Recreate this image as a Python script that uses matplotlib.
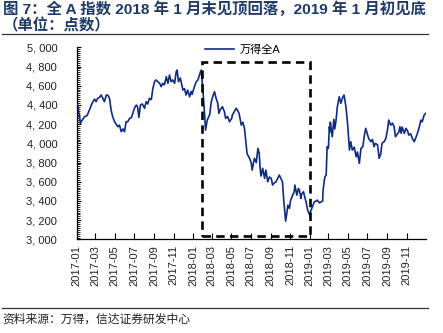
import matplotlib
matplotlib.use("Agg")
import matplotlib.pyplot as plt
import matplotlib.dates as mdates
from matplotlib.lines import Line2D
from matplotlib.patches import Rectangle
from matplotlib.ticker import MultipleLocator, FuncFormatter
import pandas as pd

plt.rcParams['font.family'] = ['Liberation Sans', 'Noto Sans CJK SC', 'DejaVu Sans']

# 万得全A (approx. every few trading days)
dates_2017 = ["2017-01-03", "2017-01-05", "2017-01-10", "2017-01-13", "2017-01-18", "2017-01-26",
              "2017-02-03", "2017-02-10", "2017-02-16", "2017-02-21", "2017-02-26", "2017-03-03",
              "2017-03-08", "2017-03-14", "2017-03-19", "2017-03-24", "2017-03-29", "2017-04-04",
              "2017-04-09", "2017-04-14", "2017-04-19", "2017-04-24", "2017-04-30", "2017-05-05",
              "2017-05-10", "2017-05-15", "2017-05-21", "2017-05-26", "2017-05-31", "2017-06-05",
              "2017-06-10", "2017-06-16", "2017-06-21", "2017-06-26", "2017-07-01", "2017-07-07",
              "2017-07-11", "2017-07-15", "2017-07-20", "2017-07-26", "2017-08-02", "2017-08-07",
              "2017-08-12", "2017-08-17", "2017-08-23", "2017-08-28", "2017-09-02", "2017-09-07",
              "2017-09-12", "2017-09-18", "2017-09-23", "2017-09-28", "2017-10-03", "2017-10-09",
              "2017-10-14", "2017-10-19", "2017-10-24", "2017-10-29", "2017-11-04", "2017-11-09",
              "2017-11-12", "2017-11-16", "2017-11-22", "2017-11-30", "2017-12-05", "2017-12-10",
              "2017-12-15", "2017-12-21", "2017-12-26", "2017-12-29"]
values_2017 = [4399, 4380, 4277, 4208, 4240, 4277,
               4290, 4347, 4399, 4434, 4460, 4434,
               4469, 4480, 4503, 4469, 4434, 4503,
               4500, 4469, 4347, 4277, 4225, 4200,
               4173, 4190, 4121, 4150, 4121, 4225,
               4225, 4260, 4265, 4312, 4365, 4399,
               4380, 4270, 4399, 4410, 4365, 4434,
               4410, 4469, 4455, 4573, 4642, 4660,
               4642, 4625, 4590, 4625, 4610, 4694,
               4625, 4711, 4642, 4660, 4625, 4746,
               4763, 4642, 4680, 4555, 4570, 4503,
               4555, 4485, 4540, 4510]

dates_2018 = ["2018-01-05", "2018-01-11", "2018-01-16", "2018-01-21", "2018-01-26", "2018-01-29",
              "2018-02-01", "2018-02-06", "2018-02-09", "2018-02-14", "2018-02-22", "2018-02-27",
              "2018-03-05", "2018-03-09", "2018-03-14", "2018-03-19", "2018-03-23", "2018-03-27",
              "2018-04-03", "2018-04-09", "2018-04-13", "2018-04-19", "2018-04-25", "2018-05-02",
              "2018-05-04", "2018-05-10", "2018-05-16", "2018-05-21", "2018-05-25", "2018-06-01",
              "2018-06-06", "2018-06-11", "2018-06-19", "2018-06-21", "2018-06-27", "2018-07-02",
              "2018-07-05", "2018-07-12", "2018-07-18", "2018-07-23", "2018-07-27", "2018-07-31",
              "2018-08-02", "2018-08-07", "2018-08-13", "2018-08-17", "2018-08-23", "2018-08-28",
              "2018-09-03", "2018-09-07", "2018-09-13", "2018-09-18", "2018-09-21", "2018-09-28",
              "2018-10-08", "2018-10-12", "2018-10-18", "2018-10-22", "2018-10-25", "2018-10-30",
              "2018-11-02", "2018-11-09", "2018-11-14", "2018-11-16", "2018-11-22", "2018-11-27",
              "2018-11-30", "2018-12-05", "2018-12-07", "2018-12-13", "2018-12-17", "2018-12-21",
              "2018-12-26"]
values_2018 = [4590, 4642, 4660, 4711, 4763, 4660,
               4538, 4299, 4138, 4240, 4299, 4434,
               4500, 4538, 4469, 4420, 4312, 4350,
               4381, 4330, 4260, 4280, 4225, 4260,
               4295, 4330, 4365, 4340, 4312, 4190,
               4220, 4156, 3896, 3880, 3844, 3800,
               3722, 3844, 3800, 3948, 3900, 3704,
               3660, 3740, 3635, 3722, 3600, 3650,
               3635, 3566, 3590, 3600, 3620, 3670,
               3600, 3409, 3190, 3280, 3357, 3323,
               3400, 3461, 3500, 3566, 3461, 3530,
               3514, 3427, 3470, 3496, 3440, 3392,
               3305]

dates_2019 = ["2019-01-03", "2019-01-04", "2019-01-08", "2019-01-11", "2019-01-16", "2019-01-22",
              "2019-01-25", "2019-02-01", "2019-02-11", "2019-02-12", "2019-02-15", "2019-02-18",
              "2019-02-22", "2019-02-25", "2019-03-01", "2019-03-04", "2019-03-06", "2019-03-07",
              "2019-03-13", "2019-03-18", "2019-03-21", "2019-03-25", "2019-03-29", "2019-04-04",
              "2019-04-09", "2019-04-15", "2019-04-19", "2019-04-25", "2019-04-30", "2019-05-06",
              "2019-05-10", "2019-05-15", "2019-05-21", "2019-05-27", "2019-05-31", "2019-06-06",
              "2019-06-11", "2019-06-17", "2019-06-21", "2019-06-26", "2019-07-01", "2019-07-05",
              "2019-07-12", "2019-07-17", "2019-07-22", "2019-07-26", "2019-08-02", "2019-08-07",
              "2019-08-12", "2019-08-16", "2019-08-23", "2019-08-28", "2019-09-02", "2019-09-06",
              "2019-09-12", "2019-09-18", "2019-09-23", "2019-09-27", "2019-10-08", "2019-10-11",
              "2019-10-15", "2019-10-18", "2019-10-25", "2019-10-30", "2019-11-04", "2019-11-08",
              "2019-11-14", "2019-11-19", "2019-11-25", "2019-11-29", "2019-12-05", "2019-12-11",
              "2019-12-16", "2019-12-20", "2019-12-26", "2019-12-31"]
values_2019 = [3240, 3290, 3323, 3350, 3392, 3400,
               3409, 3380, 3400, 3500, 3583, 3652,
               3670, 3965, 3948, 4173, 4120, 4220,
               4069, 4250, 4150, 4242, 4381, 4485,
               4417, 4480, 4503, 4381, 4208, 3930,
               4017, 3930, 3960, 3860, 3910, 3792,
               3948, 3965, 4069, 4156, 4100, 4052,
               4017, 4040, 3965, 4000, 3985, 3844,
               3890, 4000, 4020, 4052, 4138, 4242,
               4190, 4210, 4173, 4069, 4120, 4173,
               4104, 4170, 4104, 4156, 4130, 4086,
               4100, 4052, 4017, 4050, 4104, 4173,
               4242, 4225, 4295, 4312]

series_name = "万得全A"
# dashed highlight box: top in Jan 2018 to bottom in Jan 2019
box_start, box_end = "2018-01-28", "2019-01-02"
box_low, box_high = 3035, 4845

dates = pd.to_datetime(dates_2017 + dates_2018 + dates_2019)
values = values_2017 + values_2018 + values_2019

fig = plt.figure(figsize=(4.43, 3.33), dpi=100)
ax = fig.add_axes([0.173, 0.281, 0.788, 0.577])

ax.plot(dates, values, color="#0F2C82", lw=1.2, label=series_name)

x0 = mdates.date2num(pd.Timestamp(box_start))
x1 = mdates.date2num(pd.Timestamp(box_end))
ax.add_patch(Rectangle((x0, box_low), x1 - x0, box_high - box_low, fill=False,
                       ec="black", lw=1.9, ls=(0, (3.2, 2.0)), zorder=3))

ax.set_xlim(pd.Timestamp("2017-01-01"), pd.Timestamp("2019-12-31"))
ax.set_ylim(3000, 5000)
ax.yaxis.set_major_locator(MultipleLocator(200))
ax.yaxis.set_minor_locator(MultipleLocator(20))
ax.yaxis.set_major_formatter(FuncFormatter(lambda v, p: f"{v:,.0f}".replace(",", ", ")))
ax.xaxis.set_major_locator(mdates.MonthLocator(bymonth=[1, 3, 5, 7, 9, 11]))
ax.xaxis.set_major_formatter(mdates.DateFormatter("%Y-%m"))
ax.tick_params(axis="x", direction="in", length=4, width=0.8, labelsize=8, rotation=90,
               pad=4, labelcolor="#222222")
ax.tick_params(axis="y", which="major", direction="in", length=3, width=0.8, labelsize=8,
               pad=14, labelcolor="#222222")
ax.tick_params(axis="y", which="minor", direction="in", length=2, width=0.6)

for s in ["top", "right"]:
    ax.spines[s].set_visible(False)
for s in ["left", "bottom"]:
    ax.spines[s].set_linewidth(0.9)

ax.legend(loc="center", bbox_to_anchor=(0.475, 0.985), frameon=False, fontsize=8,
          handlelength=2.6, borderpad=0, handletextpad=0.5)

title_color = "#1F3A68"
fig.text(0.006, 0.995, "图 7：全 A 指数 2018 年 1 月末见顶回落，2019 年 1 月初见底",
         fontsize=11.1, fontweight="bold", color=title_color, va="top", ha="left")
fig.text(0.006, 0.945, "（单位：点数）", fontsize=11.1, fontweight="bold",
         color=title_color, va="top", ha="left")
fig.add_artist(Line2D([0.005, 0.966], [0.897, 0.897], color="#333333", lw=0.9))
fig.add_artist(Line2D([0.005, 0.966], [0.075, 0.075], color="#333333", lw=0.9))
fig.text(0.006, 0.04, "资料来源：万得，信达证券研发中心", fontsize=8.5, color="#222222",
         va="center", ha="left")

fig.savefig("out.png", dpi=100)
